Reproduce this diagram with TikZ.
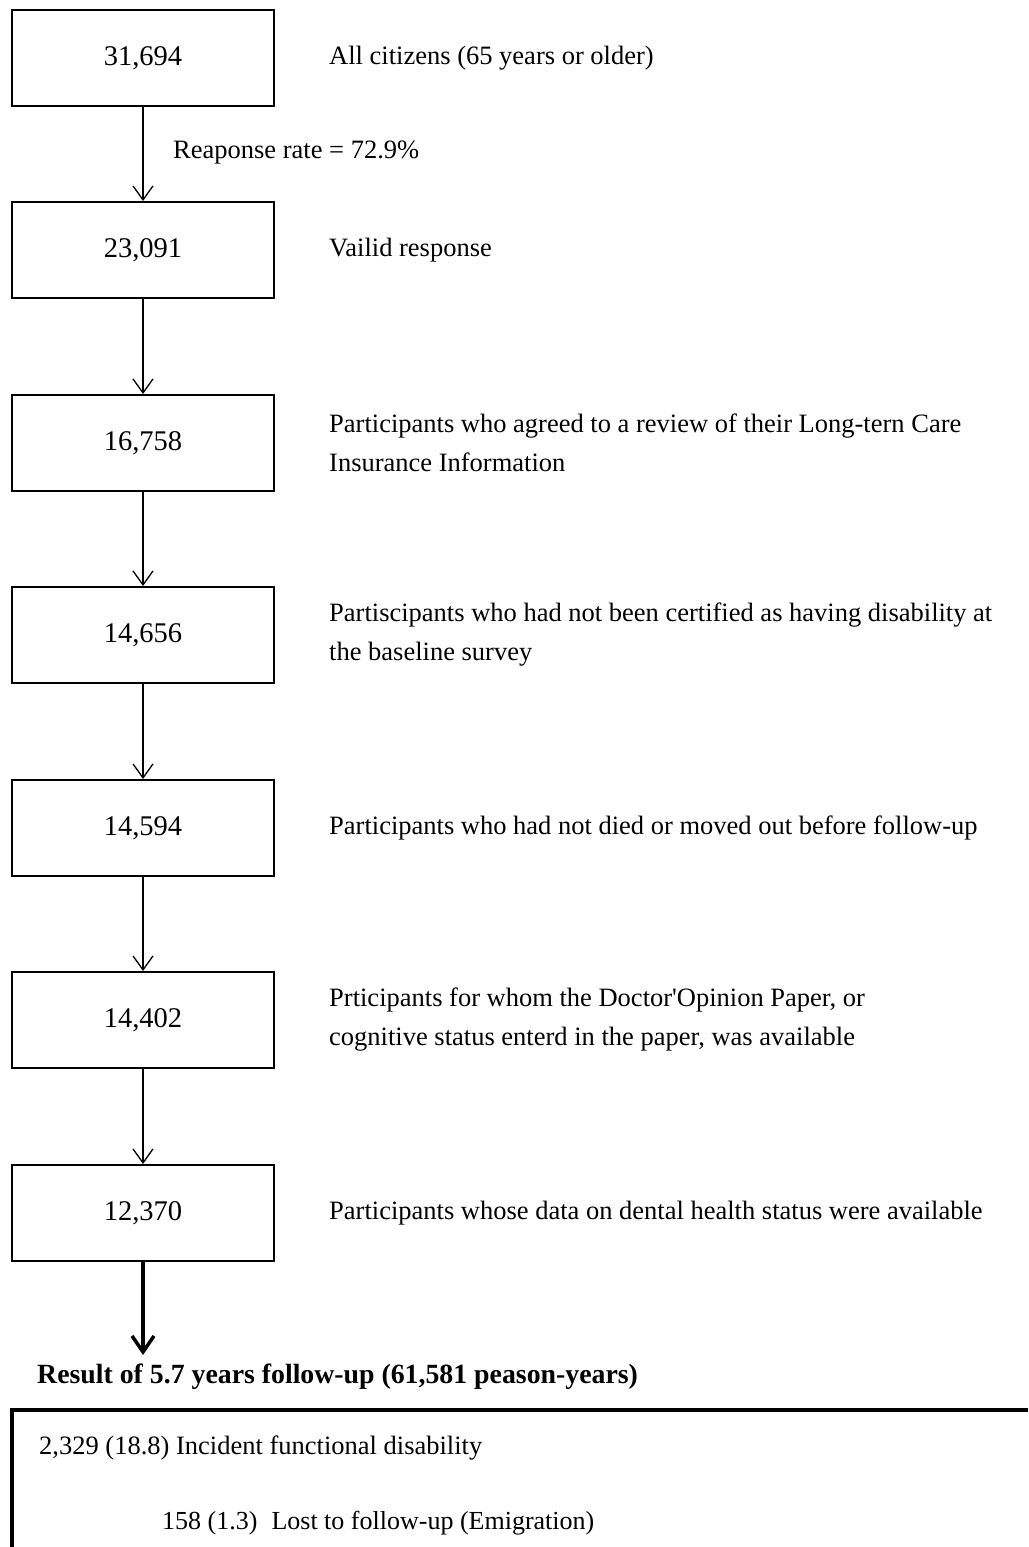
\documentclass[tikz,border=0pt]{standalone}
\usepackage{fontspec}
\setmainfont{Liberation Serif}
\usetikzlibrary{arrows.meta}
\begin{document}
\begin{tikzpicture}[x=1pt,y=-1pt,
  numbox/.style={draw,line width=2pt,minimum width=262pt,minimum height=96pt,inner sep=0pt,font=\fontsize{28.5}{34}\selectfont},
  lbl/.style={anchor=west,inner sep=0pt,align=left,font=\fontsize{26.5}{39}\selectfont},
  thinarrow/.style={line width=1.3pt,-{Straight Barb[length=14pt,width=20pt,line width=1.3pt]}},
  thickarrow/.style={line width=3.5pt,-{Straight Barb[length=16pt,width=22pt,line width=3.5pt]}}
]
\useasboundingbox (0,0) rectangle (1028,1547);
\node[numbox] (b1) at (143,58) {31,694};
\node[numbox] (b2) at (143,250) {23,091};
\node[numbox] (b3) at (143,443) {16,758};
\node[numbox] (b4) at (143,635) {14,656};
\node[numbox] (b5) at (143,828) {14,594};
\node[numbox] (b6) at (143,1020) {14,402};
\node[numbox] (b7) at (143,1213) {12,370};
\node[lbl] (l1) at (329,58) {All citizens (65 years or older)};
\node[lbl] (l2) at (329,250) {Vailid response};
\node[lbl] (l3) at (329,443) {Participants who agreed to a review of their Long-tern Care\\Insurance Information};
\node[lbl] (l4) at (329,635) {Partiscipants who had not been certified as having disability at\\the baseline survey};
\node[lbl] (l5) at (329,828) {Participants who had not died or moved out before follow-up};
\node[lbl] (l6) at (329,1020) {Prticipants for whom the Doctor\textquotesingle Opinion Paper, or\\cognitive status enterd in the paper, was available};
\node[lbl] (l7) at (329,1213) {Participants whose data on dental health status were available};
\node[lbl] (rr) at (173,153) {Reaponse rate = 72.9\%};
\draw[thinarrow] (b1) -- (b2);
\draw[thinarrow] (b2) -- (b3);
\draw[thinarrow] (b3) -- (b4);
\draw[thinarrow] (b4) -- (b5);
\draw[thinarrow] (b5) -- (b6);
\draw[thinarrow] (b6) -- (b7);
\coordinate (tip) at (143,1355);
\draw[thickarrow] (b7.south) -- (tip);
\node[lbl,font=\fontsize{27.8}{32}\selectfont\bfseries] (res) at (37,1377) {Result of 5.7 years follow-up (61,581 peason-years)};
\coordinate (cbl) at (12,1547);
\coordinate (ctl) at (12,1410);
\coordinate (ctr) at (1028,1410);
\draw[line width=4pt,miter limit=10] (cbl) -- (ctl) -- (ctr);
\node[lbl] (r1) at (39,1448) {2,329 (18.8) Incident functional disability};
\node[lbl,font=\fontsize{26}{32}\selectfont] (r2) at (162,1523) {158 (1.3)\hspace{14pt}Lost to follow-up (Emigration)};
\end{tikzpicture}
\end{document}
